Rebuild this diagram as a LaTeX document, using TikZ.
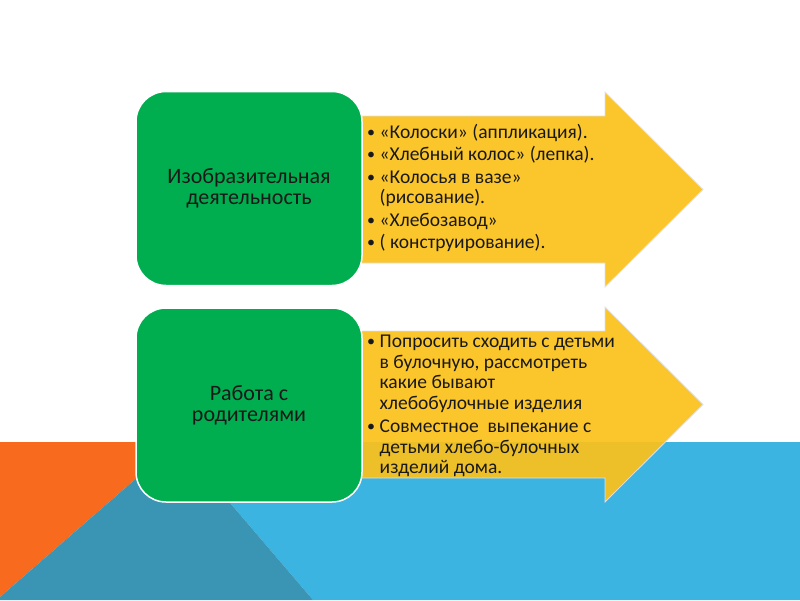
\documentclass[tikz,border=0pt]{standalone}
\usepackage{fontspec}
\setmainfont{Carlito}
\usepackage{tikz}
\usetikzlibrary{positioning}

\definecolor{boxgreen}{RGB}{0,174,80}
\definecolor{arrowyellow}{RGB}{251,193,28}
\definecolor{bgorange}{RGB}{248,106,30}
\definecolor{bgteal}{RGB}{58,149,180}
\definecolor{bgblue}{RGB}{60,180,226}
\definecolor{txt}{RGB}{25,25,25}

\newcommand{\itm}{\makebox[12.5pt][l]{\raisebox{1pt}{\fontsize{16}{16}\selectfont•}}}
\newcommand{\ind}{\hspace*{12.5pt}}

\begin{document}
\begin{tikzpicture}[
  x=1pt, y=-1pt,
  every node/.style={text=txt, inner sep=0pt},
  greenbox/.style ={rectangle, draw=white, line width=1.5pt, rounded corners=30pt,
                    fill=boxgreen, minimum width=226pt, minimum height=194pt,
                    align=center, font=\fontsize{22}{21}\selectfont},
  yarrow/.style   ={fill=arrowyellow, fill opacity=0.93, draw=black!12, line width=0.8pt},
  items/.style    ={anchor=west, align=left, font=\fontsize{19.5}{20.5}\selectfont},
]
\useasboundingbox (0,0) rectangle (800,600);

% Background corner
\fill[bgorange] (0,442) -- (178,442) -- (0,597) -- cycle;
\fill[bgblue]   (178,442) -- (800,442) -- (800,600) -- (313,600) -- cycle;
\fill[bgteal]   (178,442) -- (313,600) -- (0,600) -- (0,597) -- cycle;

% Arrows
\path[yarrow] (340,116) -- (605,116) -- (605,92) -- (703,189.5)
              -- (605,287) -- (605,263) -- (340,263) -- cycle;
\path[yarrow] (340,331) -- (605,331) -- (605,307) -- (703,404.5)
              -- (605,502) -- (605,478) -- (340,478) -- cycle;

% Green boxes
\node[greenbox] (art) at (249,188.5) {Изобразительная\\деятельность};
\node[greenbox, below=21pt of art] (parents) {Работа с\\родителями};

% Bullet lists
\node[items] (artitems) at (367,188) {%
  \itm«Колоски» (аппликация).\\[2pt]
  \itm«Хлебный колос» (лепка).\\[2pt]
  \itm«Колосья в вазе»\\
  \ind(рисование).\\[2pt]
  \itm«Хлебозавод»\\[2pt]
  \itm( конструирование).};
\node[items] (parentitems) at (367,406) {%
  \itm Попросить сходить с детьми\\
  \ind в булочную, рассмотреть\\
  \ind какие бывают\\
  \ind хлебобулочные изделия\\[3pt]
  \itm Совместное\ \ выпекание с\\
  \ind детьми хлебо-булочных\\
  \ind изделий дома.};

\end{tikzpicture}
\end{document}
